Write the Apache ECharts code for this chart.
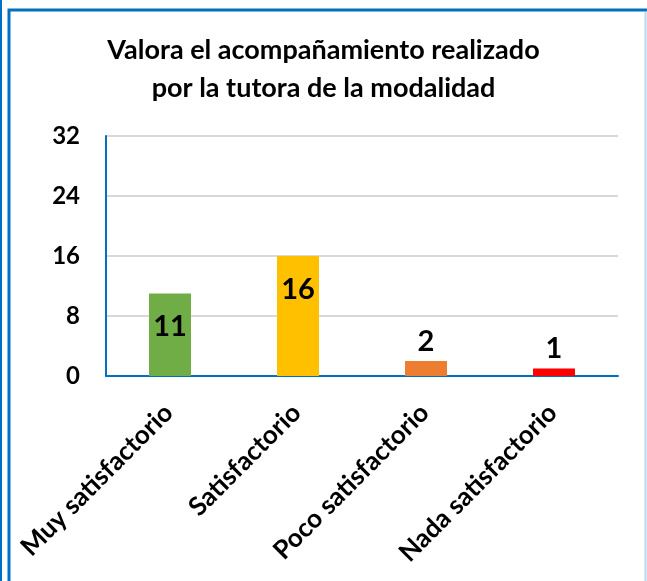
<!DOCTYPE html>
<html>
<head>
<meta charset="utf-8">
<script src="https://cdn.jsdelivr.net/npm/echarts@6/dist/echarts.min.js"></script>
<style>
html,body{margin:0;padding:0;background:#fff;}
#chart{width:647px;height:581px;}
</style>
</head>
<body>
<div id="chart"></div>
<script>
const titleText = 'Valora el acompañamiento realizado\npor la tutora de la modalidad';
const categories = ['Muy satisfactorio', 'Satisfactorio', 'Poco satisfactorio', 'Nada satisfactorio'];
const values = [11, 16, 2, 1];
const barColors = ['#70AD47', '#FFC000', '#ED7D31', '#FF0000'];
const yTicks = [0, 8, 16, 24, 32];
const labelInside = [true, true, false, false];

const FONT = 'Lato';
const chart = echarts.init(document.getElementById('chart'), null, {renderer: 'canvas'});
chart.setOption({
  backgroundColor: '#fff',
  animation: false,
  title: {
    text: titleText,
    left: 'center',
    top: 26,
    padding: [5, 5, 5, 19],
    textStyle: {fontFamily: FONT, fontSize: 27, fontWeight: 'bold', color: '#000', lineHeight: 38}
  },
  graphic: [
    {type: 'rect', shape: {x: 9, y: 10, width: 700, height: 700}, style: {fill: 'none', stroke: '#0070C0', lineWidth: 3}, silent: true},
    {type: 'line', shape: {x1: 1, y1: 0, x2: 1, y2: 581}, style: {stroke: '#0070C0', lineWidth: 2}, silent: true},
    {type: 'line', shape: {x1: 645.5, y1: 12, x2: 645.5, y2: 581}, style: {stroke: '#BDD7EE', lineWidth: 2}, silent: true}
  ],
  grid: {left: 106, right: 29, top: 136, bottom: 205, containLabel: false},
  xAxis: {
    type: 'category',
    data: categories,
    axisLine: {show: true, lineStyle: {color: '#0070C0', width: 2}},
    axisTick: {show: false},
    axisLabel: {rotate: 45, margin: 31, padding: [0, 2, 0, 0], fontFamily: FONT, fontSize: 26, fontWeight: 'bold', color: '#000', interval: 0}
  },
  yAxis: {
    type: 'value',
    min: yTicks[0],
    max: yTicks[yTicks.length - 1],
    interval: yTicks[1] - yTicks[0],
    axisLine: {show: true, lineStyle: {color: '#0070C0', width: 2}},
    axisTick: {show: false},
    splitLine: {lineStyle: {color: '#D9D9D9', width: 2}},
    axisLabel: {margin: 26, fontFamily: FONT, fontSize: 24, fontWeight: 'bold', color: '#000'}
  },
  series: [{
    type: 'bar',
    barWidth: 42,
    data: values.map((v, i) => ({
      value: v,
      itemStyle: {color: barColors[i]},
      label: labelInside[i] ? {position: 'insideTop', distance: 19} : {position: 'top', distance: 5}
    })),
    label: {show: true, fontFamily: FONT, fontSize: 29, fontWeight: 'bold', color: '#000'}
  }]
});
</script>
</body>
</html>
